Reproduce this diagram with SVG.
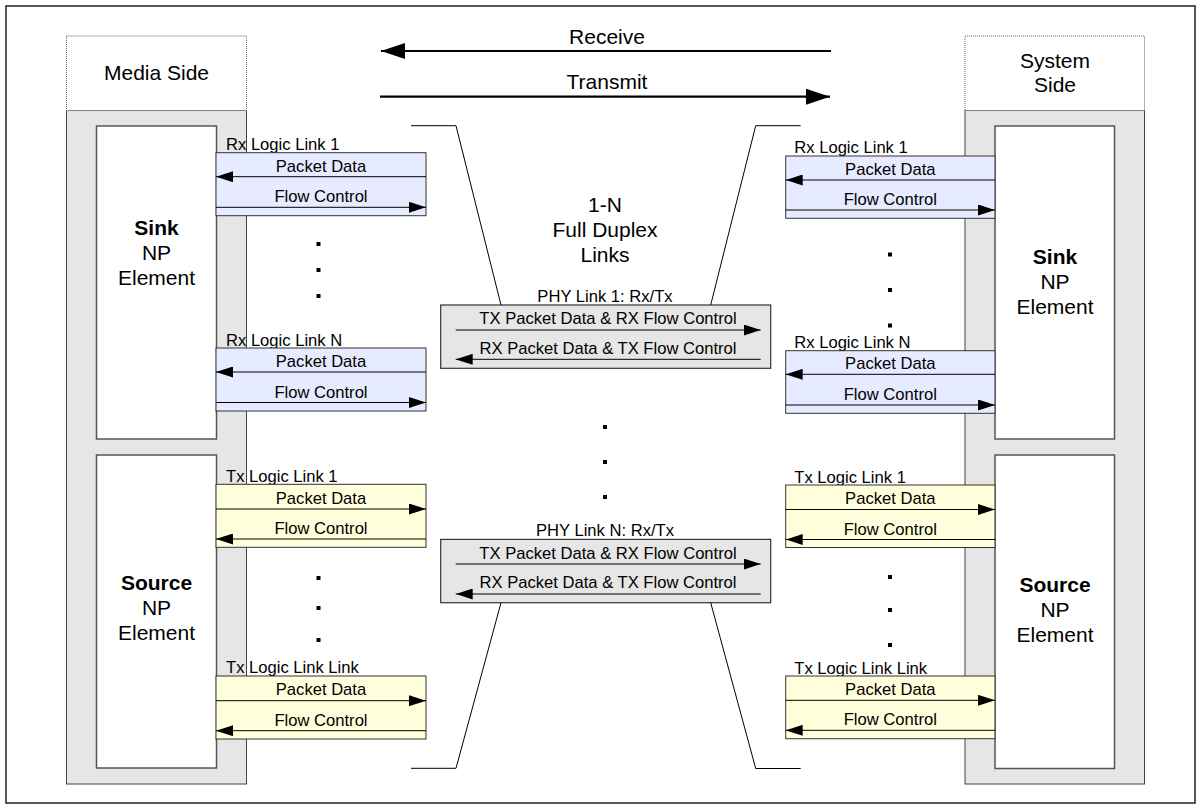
<svg xmlns="http://www.w3.org/2000/svg" width="1201" height="809" viewBox="0 0 1201 809">
  <style>
    text { font-family: "Liberation Sans", Arial, sans-serif; fill: #000; }
    .big { font-size: 21px; text-anchor: middle; }
    .bold { font-weight: bold; }
    .sm { font-size: 16.6px; }
    .mid { text-anchor: middle; }
    .frame { fill: #fff; stroke: #222; stroke-width: 1.5; }
    .hdr { fill: #fff; stroke: #666; stroke-width: 1; stroke-dasharray: 1 1; }
    .col { fill: #e6e6e6; stroke: #444; stroke-width: 1; }
    .elem { fill: #fff; stroke: #555; stroke-width: 1.5; }
    .rx { fill: #e6ebff; stroke: #333; stroke-width: 1; }
    .tx { fill: #ffffdc; stroke: #333; stroke-width: 1; }
    .phy { fill: #e6e6e6; stroke: #333; stroke-width: 1.2; }
    .ln { stroke: #000; stroke-width: 1; fill: none; }
    .arr { stroke: #000; stroke-width: 1; fill: none; marker-end: url(#head); }
    .thick { stroke: #000; stroke-width: 2.2; fill: none; marker-end: url(#bighead); }
    .dot { fill: #000; }
  </style>
  <defs>
    <marker id="head" markerUnits="userSpaceOnUse" markerWidth="17" markerHeight="11" refX="17" refY="5.5" orient="auto">
      <path d="M0,0 L17,5.5 L0,11 z" fill="#000"/>
    </marker>
    <marker id="bighead" markerUnits="userSpaceOnUse" markerWidth="24" markerHeight="16" refX="24" refY="8" orient="auto">
      <path d="M0,0 L24,8 L0,16 z" fill="#000"/>
    </marker>
  </defs>

  <rect class="frame" x="6" y="6" width="1189" height="797"/>

  <!-- direction arrows -->
  <g id="direction">
    <line class="thick" x1="831" y1="51" x2="381" y2="51"/>
    <text class="big" x="607" y="44">Receive</text>
    <line class="thick" x1="380" y1="96.7" x2="830" y2="96.7"/>
    <text class="big" x="607" y="89">Transmit</text>
  </g>

  <!-- media side column -->
  <g id="media-side">
    <rect class="col" x="66.5" y="110.5" width="180" height="673.5"/>
    <rect class="hdr" x="66.5" y="36" width="180" height="74.5"/>
    <text class="big" x="156.5" y="80">Media Side</text>
  </g>
  <g id="media-sink">
    <rect class="elem" x="96.5" y="126" width="120" height="313"/>
    <text class="big bold" x="156.5" y="235">Sink</text>
    <text class="big" x="156.5" y="260">NP</text>
    <text class="big" x="156.5" y="285">Element</text>
  </g>
  <g id="media-source">
    <rect class="elem" x="96.5" y="455" width="120" height="313"/>
    <text class="big bold" x="156.5" y="590">Source</text>
    <text class="big" x="156.5" y="615">NP</text>
    <text class="big" x="156.5" y="640">Element</text>
  </g>

  <!-- system side column -->
  <g id="system-side">
    <rect class="col" x="965" y="110.5" width="179.5" height="673.5"/>
    <rect class="hdr" x="965" y="36" width="179.5" height="74.5"/>
    <text class="big" x="1055" y="68">System</text>
    <text class="big" x="1055" y="92">Side</text>
  </g>
  <g id="system-sink">
    <rect class="elem" x="995" y="126" width="119.5" height="313"/>
    <text class="big bold" x="1055" y="264">Sink</text>
    <text class="big" x="1055" y="289">NP</text>
    <text class="big" x="1055" y="314">Element</text>
  </g>
  <g id="system-source">
    <rect class="elem" x="995" y="455" width="119.5" height="313.5"/>
    <text class="big bold" x="1055" y="592">Source</text>
    <text class="big" x="1055" y="617">NP</text>
    <text class="big" x="1055" y="642">Element</text>
  </g>

  <!-- logic links, media side -->
  <g id="media-rx-1">
    <text class="sm" x="226" y="150">Rx Logic Link 1</text>
    <rect class="rx" x="216" y="152.7" width="210" height="63"/>
    <text class="sm mid" x="321" y="171.7">Packet Data</text>
    <text class="sm mid" x="321" y="202.2">Flow Control</text>
  </g>
  <g id="media-rx-n">
    <text class="sm" x="226" y="345.5">Rx Logic Link N</text>
    <rect class="rx" x="216" y="348" width="210" height="63"/>
    <text class="sm mid" x="321" y="367">Packet Data</text>
    <text class="sm mid" x="321" y="397.5">Flow Control</text>
  </g>
  <g id="media-tx-1">
    <text class="sm" x="226" y="482">Tx Logic Link 1</text>
    <rect class="tx" x="216" y="484.3" width="210" height="63"/>
    <text class="sm mid" x="321" y="503.5">Packet Data</text>
    <text class="sm mid" x="321" y="534">Flow Control</text>
  </g>
  <g id="media-tx-n">
    <text class="sm" x="226" y="673.3">Tx Logic Link Link</text>
    <rect class="tx" x="216" y="676" width="210" height="63"/>
    <text class="sm mid" x="321" y="695.2">Packet Data</text>
    <text class="sm mid" x="321" y="725.5">Flow Control</text>
  </g>

  <!-- logic links, system side -->
  <g id="system-rx-1">
    <text class="sm" x="794.3" y="153.3">Rx Logic Link 1</text>
    <rect class="rx" x="785.7" y="156" width="209.3" height="62.3"/>
    <text class="sm mid" x="890.3" y="175">Packet Data</text>
    <text class="sm mid" x="890.3" y="205.2">Flow Control</text>
  </g>
  <g id="system-rx-n">
    <text class="sm" x="794.3" y="347.7">Rx Logic Link N</text>
    <rect class="rx" x="785.7" y="350.7" width="209.3" height="62.6"/>
    <text class="sm mid" x="890.3" y="369.3">Packet Data</text>
    <text class="sm mid" x="890.3" y="400">Flow Control</text>
  </g>
  <g id="system-tx-1">
    <text class="sm" x="794.3" y="482.5">Tx Logic Link 1</text>
    <rect class="tx" x="785.7" y="485" width="209.3" height="62.5"/>
    <text class="sm mid" x="890.3" y="504">Packet Data</text>
    <text class="sm mid" x="890.3" y="534.5">Flow Control</text>
  </g>
  <g id="system-tx-n">
    <text class="sm" x="794.3" y="674">Tx Logic Link Link</text>
    <rect class="tx" x="785.7" y="676" width="209.3" height="62.7"/>
    <text class="sm mid" x="890.3" y="695.2">Packet Data</text>
    <text class="sm mid" x="890.3" y="725.3">Flow Control</text>
  </g>

  <!-- physical links -->
  <g id="phy-1">
    <text class="sm mid" x="605" y="301.7">PHY Link 1: Rx/Tx</text>
    <rect class="phy" x="440.7" y="305" width="330" height="63.3"/>
    <text class="sm mid" x="608" y="324.3">TX Packet Data &amp; RX Flow Control</text>
    <text class="sm mid" x="608" y="354">RX Packet Data &amp; TX Flow Control</text>
  </g>
  <g id="phy-n">
    <text class="sm mid" x="605" y="536">PHY Link N: Rx/Tx</text>
    <rect class="phy" x="440.7" y="539.4" width="330" height="63.3"/>
    <text class="sm mid" x="608" y="558.7">TX Packet Data &amp; RX Flow Control</text>
    <text class="sm mid" x="608" y="588.4">RX Packet Data &amp; TX Flow Control</text>
  </g>

  <g id="duplex-label">
    <text class="big" x="605" y="211.7">1-N</text>
    <text class="big" x="605" y="236.7">Full Duplex</text>
    <text class="big" x="605" y="261.7">Links</text>
  </g>

  <!-- continuation dots -->
  <g id="ellipses">
    <rect class="dot" x="316.5" y="242" width="4" height="4"/>
    <rect class="dot" x="316.5" y="268" width="4" height="4"/>
    <rect class="dot" x="316.5" y="294" width="4" height="4"/>
    <rect class="dot" x="888" y="252.5" width="4" height="4"/>
    <rect class="dot" x="888" y="288" width="4" height="4"/>
    <rect class="dot" x="888" y="323.5" width="4" height="4"/>
    <rect class="dot" x="603" y="425" width="4" height="4"/>
    <rect class="dot" x="603" y="460" width="4" height="4"/>
    <rect class="dot" x="603" y="495" width="4" height="4"/>
    <rect class="dot" x="316.5" y="576" width="4" height="4"/>
    <rect class="dot" x="316.5" y="606" width="4" height="4"/>
    <rect class="dot" x="316.5" y="638" width="4" height="4"/>
    <rect class="dot" x="888" y="575" width="4" height="4"/>
    <rect class="dot" x="888" y="608" width="4" height="4"/>
    <rect class="dot" x="888" y="643" width="4" height="4"/>
  </g>

  <!-- connectors -->
  <g id="connectors">
    <!-- media side logic links -->
    <line class="arr" x1="426" y1="176.7" x2="216" y2="176.7"/>
    <line class="arr" x1="216" y1="207.3" x2="426" y2="207.3"/>
    <line class="arr" x1="426" y1="372" x2="216" y2="372"/>
    <line class="arr" x1="216" y1="402.5" x2="426" y2="402.5"/>
    <line class="arr" x1="216" y1="509" x2="426" y2="509"/>
    <line class="arr" x1="426" y1="539" x2="216" y2="539"/>
    <line class="arr" x1="216" y1="700.7" x2="426" y2="700.7"/>
    <line class="arr" x1="426" y1="730.7" x2="216" y2="730.7"/>
    <!-- system side logic links -->
    <line class="arr" x1="995" y1="180" x2="785.7" y2="180"/>
    <line class="arr" x1="785.7" y1="210" x2="995" y2="210"/>
    <line class="arr" x1="995" y1="374.3" x2="785.7" y2="374.3"/>
    <line class="arr" x1="785.7" y1="405" x2="995" y2="405"/>
    <line class="arr" x1="785.7" y1="509.5" x2="995" y2="509.5"/>
    <line class="arr" x1="995" y1="539.5" x2="785.7" y2="539.5"/>
    <line class="arr" x1="785.7" y1="700.3" x2="995" y2="700.3"/>
    <line class="arr" x1="995" y1="730.3" x2="785.7" y2="730.3"/>
    <!-- physical links -->
    <line class="arr" x1="455.7" y1="330" x2="760.7" y2="330"/>
    <line class="arr" x1="760.7" y1="359.3" x2="455.7" y2="359.3"/>
    <line class="arr" x1="455.7" y1="564" x2="760.7" y2="564"/>
    <line class="arr" x1="760.7" y1="594" x2="455.7" y2="594"/>
    <!-- link bundle outline -->
    <polyline class="ln" points="411,125.7 456,125.7 501,305"/>
    <polyline class="ln" points="800.7,125.7 755.7,125.7 710.7,305"/>
    <polyline class="ln" points="411,768.3 456,768.3 501,602.7"/>
    <polyline class="ln" points="800.7,768.5 755.7,768.5 710.7,602.7"/>
  </g>
</svg>
